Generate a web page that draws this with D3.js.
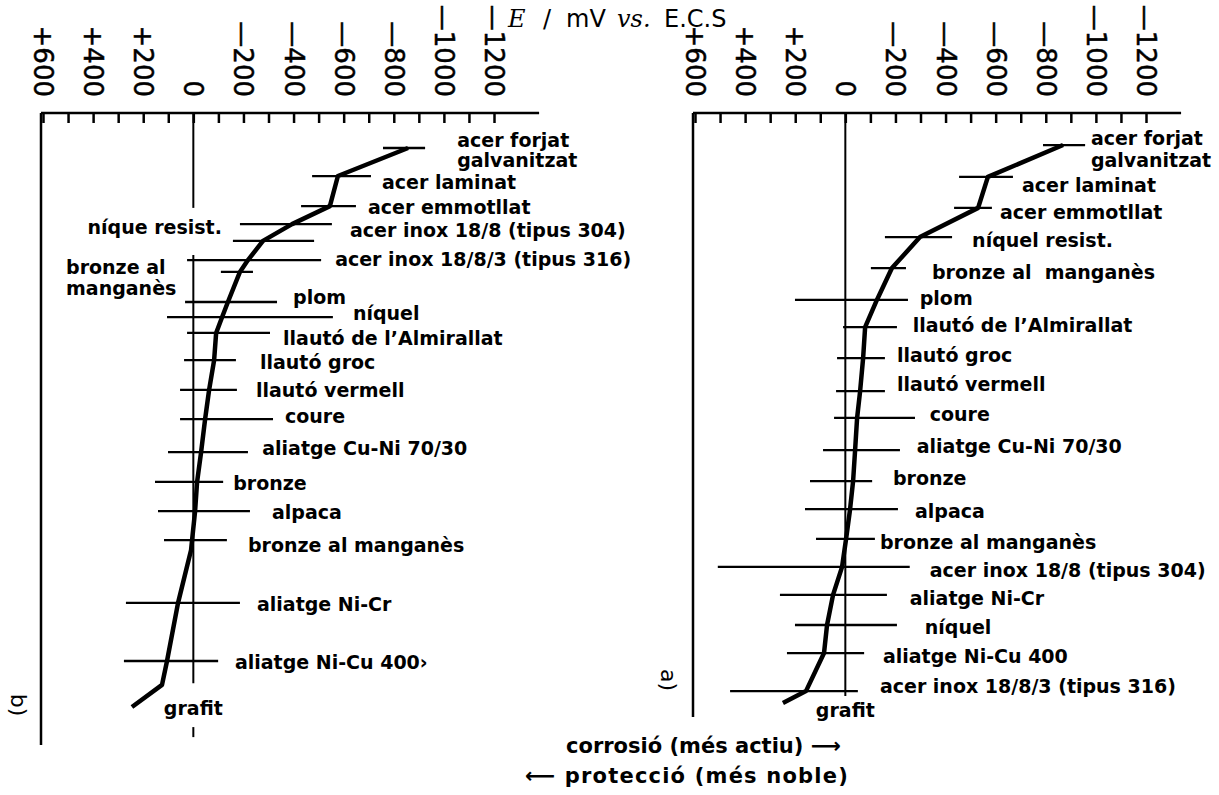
<!DOCTYPE html>
<html>
<head>
<meta charset="utf-8">
<script src="https://cdn.jsdelivr.net/npm/d3@7"></script>
<style>
  body { margin: 0; background: #fff; }
  text { font-family: "DejaVu Sans", sans-serif; fill: #000; }
</style>
</head>
<body>
<svg width="1219" height="795"></svg>
<script>
var width  = 1219;
var height = 795;

// potential axis, mV vs. E.C.S
var tickLabels = [600, 400, 200, 0, -200, -400, -600, -800, -1000, -1200];
var tickMarks  = d3.range(600, -1201, -100);

// panel b (left): bars = range of potential, mid = point on the curve
var bRow = [0, 0.95, 1.97, 2.58, 3.15, 3.80, 4.20, 5.22, 5.73, 6.27, 7.19, 8.20, 9.19, 10.31, 11.32, 12.31, 13.29, 15.42, 17.39];
var bLo  = [-757, -474, -430, -186, -158, 25, -110, 33, 105, 25, 37, 53, 53, 101, 153, 141, 117, 269, 277];
var bHi  = [-925, -709, -649, -553, -482, -510, -238, -334, -557, -306, -170, -174, -318, -218, -119, -226, -134, -186, -99];
var bMid = [-857, -577, -545, -394, -278, -218, -186, -138, -115, -91, -83, -63, -47, -31, -15, -7, 5, 61, 105];
var bTail = [[13.63, 9], [18.2, 125], [18.95, 245]];
var bZero = [[-1.19, 2.03], [3.63, 18.14], [19.63, 19.97]];
var bLabels = [
  ['acer forjat', -0.27, -1053, 'start'],
  ['galvanitzat', 0.41, -1053, 'start'],
  ['acer laminat', 1.15, -753, 'start'],
  ['acer emmotllat', 2.0, -697, 'start'],
  ['níque resist.', 2.68, -114, 'end'],
  ['acer inox 18/8 (tipus 304)', 2.78, -625, 'start'],
  ['acer inox 18/8/3 (tipus 316)', 3.76, -566, 'start'],
  ['bronze al', 4.03, 508, 'start'],
  ['manganès', 4.75, 508, 'start'],
  ['plom', 5.05, -398, 'start'],
  ['níquel', 5.59, -637, 'start'],
  ['llautó de l’Almirallat', 6.44, -358, 'start'],
  ['llautó groc', 7.25, -266, 'start'],
  ['llautó vermell', 8.2, -250, 'start'],
  ['coure', 9.08, -366, 'start'],
  ['aliatge Cu-Ni 70/30', 10.17, -275, 'start'],
  ['bronze', 11.36, -159, 'start'],
  ['alpaca', 12.34, -314, 'start'],
  ['bronze al manganès', 13.46, -218, 'start'],
  ['aliatge Ni-Cr', 15.46, -254, 'start'],
  ['aliatge Ni-Cu 400›', 17.42, -166, 'start'],
  ['grafit', 18.98, 0, 'middle']
];

// panel a (right)
var aRow = [-0.10, 0.98, 2.03, 3.02, 4.07, 5.15, 6.07, 7.12, 8.24, 9.15, 10.24, 11.29, 12.24, 13.25, 14.20, 15.15, 16.17, 17.12, 18.41];
var aLo  = [-789, -454, -434, -158, -102, 201, 9, 33, 37, 45, 89, 141, 161, 117, 509, 261, 201, 233, 460];
var aHi  = [-957, -669, -585, -426, -242, -250, -206, -158, -158, -278, -218, -107, -210, -118, -257, -166, -206, -75, -50];
var aMid = [-869, -569, -530, -298, -186, -126, -79, -71, -59, -47, -39, -31, -19, -3, 13, 49, 73, 85, 157];
var aTail = [[18.81, 249]];
var aZero = [[-1.19, 18.58]];
var aLabels = [
  ['acer forjat', -0.34, -980, 'start'],
  ['galvanitzat', 0.41, -980, 'start'],
  ['acer laminat', 1.25, -705, 'start'],
  ['acer emmotllat', 2.17, -617, 'start'],
  ['níquel resist.', 3.12, -506, 'start'],
  ['bronze al  manganès', 4.2, -346, 'start'],
  ['plom', 5.08, -297, 'start'],
  ['llautó de l’Almirallat', 6.0, -269, 'start'],
  ['llautó groc', 7.02, -206, 'start'],
  ['llautó vermell', 8.0, -206, 'start'],
  ['coure', 9.02, -337, 'start'],
  ['aliatge Cu-Ni 70/30', 10.1, -285, 'start'],
  ['bronze', 11.19, -190, 'start'],
  ['alpaca', 12.3, -278, 'start'],
  ['bronze al manganès', 13.36, -138, 'start'],
  ['acer inox 18/8 (tipus 304)', 14.31, -337, 'start'],
  ['aliatge Ni-Cr', 15.25, -257, 'start'],
  ['níquel', 16.24, -317, 'start'],
  ['aliatge Ni-Cu 400', 17.22, -150, 'start'],
  ['acer inox 18/8/3 (tipus 316)', 18.24, -138, 'start'],
  ['grafit', 19.05, 0, 'middle']
];

var axisY = 113;

var yScale = d3.scaleLinear()
                .domain([0, 19])
                .range([148, 148 + 19 * 29.5]);

var svg = d3.select('svg')
        .attr('width', width)
        .attr('height', height);

function tickText(v) {
    if (v > 0) return '+' + v;
    if (v < 0) return '—' + (-v);
    return '0';
}

function drawPanel(opt) {
    var xScale = d3.scaleLinear()
                    .domain([600, -1200])
                    .range([opt.x0, opt.x0 + 451]);

    var g = svg.append('g');

    // top axis, ticks pointing down into the plot
    var axis = d3.axisBottom(xScale)
                    .tickValues(tickMarks)
                    .tickSize(10)
                    .tickSizeOuter(0)
                    .tickFormat('');
    var ga = g.append('g')
        .attr('transform', 'translate(0,' + axisY + ')')
        .call(axis);
    ga.select('.domain').remove();
    ga.selectAll('line').attr('stroke', '#000').attr('stroke-width', 2.5);

    g.append('line')
        .attr('x1', xScale(600) - 2).attr('x2', xScale(opt.axisEnd))
        .attr('y1', axisY).attr('y2', axisY)
        .attr('stroke', '#000').attr('stroke-width', 2.5);

    g.append('line')
        .attr('x1', xScale(600) - 2).attr('x2', xScale(600) - 2)
        .attr('y1', axisY).attr('y2', opt.bottom)
        .attr('stroke', '#000').attr('stroke-width', 2.5);

    g.selectAll('.tl')
        .data(tickLabels)
        .enter()
        .append('text')
            .attr('transform', d => 'translate(' + xScale(d) + ',97) rotate(90)')
            .attr('text-anchor', 'end')
            .attr('dominant-baseline', 'central')
            .attr('font-family', 'Lato, sans-serif')
            .attr('font-size', '26px')
            .attr('stroke', '#000')
            .attr('stroke-width', 0.5)
            .text(tickText);

    // zero line
    g.selectAll('.zero')
        .data(opt.zero)
        .enter()
        .append('line')
            .attr('x1', xScale(0)).attr('x2', xScale(0))
            .attr('y1', d => yScale(d[0])).attr('y2', d => yScale(d[1]))
            .attr('stroke', '#000').attr('stroke-width', 2);

    // potential ranges
    g.selectAll('.bar')
        .data(opt.row)
        .enter()
        .append('line')
            .attr('x1', (d, i) => xScale(opt.lo[i]))
            .attr('x2', (d, i) => xScale(opt.hi[i]))
            .attr('y1', d => yScale(d))
            .attr('y2', d => yScale(d))
            .attr('stroke', '#000').attr('stroke-width', 2.3);

    // thick curve through the typical values
    var pts = opt.row.map((r, i) => [r, opt.mid[i]]).concat(opt.tail)
                .sort((a, b) => a[0] - b[0]);
    var line = d3.line()
                .x(d => xScale(d[1]))
                .y(d => yScale(d[0]));
    g.append('path')
        .attr('d', line(pts))
        .attr('fill', 'none')
        .attr('stroke', '#000')
        .attr('stroke-width', 4.5)
        .attr('stroke-linejoin', 'round');

    g.selectAll('.lab')
        .data(opt.labels)
        .enter()
        .append('text')
            .attr('x', d => xScale(d[2]))
            .attr('y', d => yScale(d[1]))
            .attr('dy', '0.36em')
            .attr('text-anchor', d => d[3])
            .attr('font-size', '19px')
            .attr('font-weight', 'bold')
            .attr('xml:space', 'preserve')
            .style('white-space', 'pre')
            .text(d => d[0]);

    g.append('text')
        .attr('transform', 'translate(' + opt.tagX + ',' + opt.tagY + ') rotate(90)')
        .attr('text-anchor', 'middle')
        .attr('dominant-baseline', 'central')
        .attr('font-size', '22px')
        .text(opt.tag);
}

drawPanel({x0: 43, axisEnd: -1380, bottom: 745, row: bRow, lo: bLo, hi: bHi, mid: bMid,
           tail: bTail, zero: bZero, labels: bLabels, tag: 'b)', tagX: 18, tagY: 705});
drawPanel({x0: 695, axisEnd: -1340, bottom: 717, row: aRow, lo: aLo, hi: aHi, mid: aMid,
           tail: aTail, zero: aZero, labels: aLabels, tag: 'a)', tagX: 668, tagY: 680});

// title
var title = svg.append('text')
        .attr('y', 27)
        .attr('font-size', '24px');
title.append('tspan').attr('x', 508)
    .attr('font-family', '"DejaVu Serif", serif').attr('font-style', 'italic').text('E');
title.append('tspan').attr('x', 543).text('/');
title.append('tspan').attr('x', 566).text('mV');
title.append('tspan').attr('x', 617)
    .attr('font-family', '"DejaVu Serif", serif').attr('font-style', 'italic').text('vs.');
title.append('tspan').attr('x', 664).text('E.C.S');

svg.append('text')
    .attr('x', 566)
    .attr('y', 753)
    .attr('font-size', '21px')
    .attr('font-weight', 'bold')
    .text('corrosió (més actiu) ⟶');

svg.append('text')
    .attr('x', 525)
    .attr('y', 783)
    .attr('font-size', '21px')
    .attr('font-weight', 'bold')
    .attr('letter-spacing', '1.2px')
    .text('⟵ protecció (més noble)');
</script>
</body>
</html>
